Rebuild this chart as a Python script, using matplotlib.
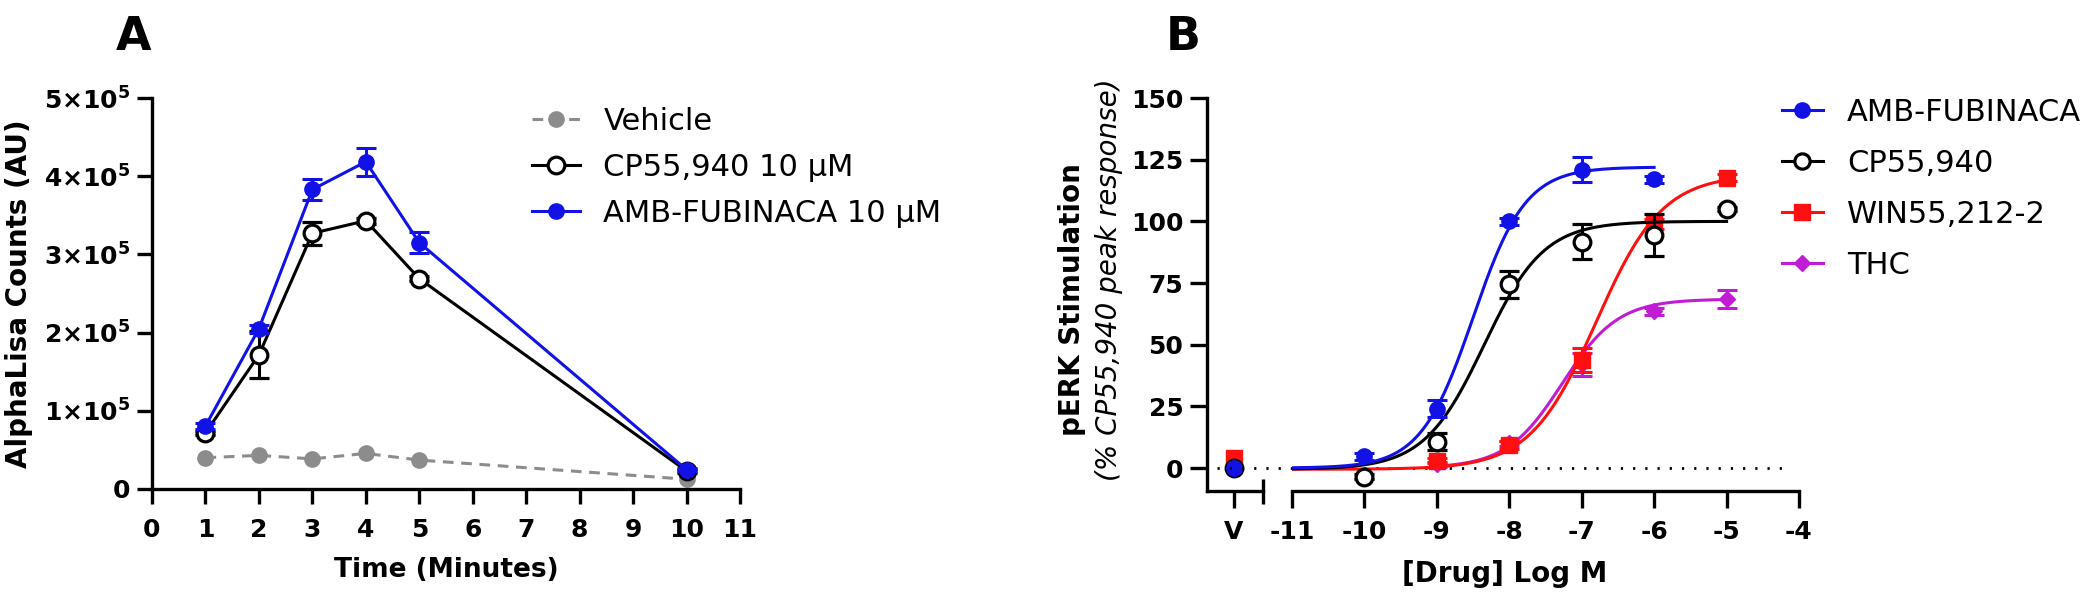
import numpy as np
import matplotlib
matplotlib.use("Agg")
import matplotlib.pyplot as plt
from matplotlib.lines import Line2D

plt.rcParams['font.family'] = ['DejaVu Sans']
plt.rcParams['mathtext.fontset'] = 'dejavusans'

# ---------------- Panel A data: time course ----------------
time_min = [1, 2, 3, 4, 5, 10]
vehicle = [40000, 43000, 38500, 45500, 37000, 12500]
cp_time = [71600, 171500, 327000, 343000, 269000, 23000]
cp_time_err = [3000, 30000, 15000, 4000, 3000, 2000]
amb_time = [80500, 205000, 383000, 418500, 315000, 24700]
amb_time_err = [4000, 5000, 13000, 18000, 13500, 2000]
legendA_labels = ["Vehicle", "CP55,940 10 \u03bcM", "AMB-FUBINACA 10 \u03bcM"]

# ---------------- Panel B data: concentration response ----------------
log_conc = [-10, -9, -8, -7, -6, -5]
amb_resp = [4.7, 24.0, 100.0, 121.0, 117.0, np.nan]
amb_err = [1.5, 3.5, 1.5, 5.0, 1.5, np.nan]
cp_resp = [-3.5, 10.7, 74.5, 91.8, 94.4, 105.0]
cp_err = [1.0, 3.5, 5.5, 7.0, 8.5, 1.0]
win_resp = [np.nan, 3.0, 9.4, 43.8, 98.8, 117.7]
win_err = [np.nan, 1.0, 1.5, 5.0, 2.0, 1.5]
thc_resp = [np.nan, 1.5, 10.0, 42.0, 63.5, 68.5]
thc_err = [np.nan, 1.0, 1.0, 4.5, 1.5, 3.5]

# vehicle (V) values
veh_amb, veh_cp, veh_win = 0.0, 0.0, 4.0

# four-parameter logistic fits
fit_names = ["AMB-FUBINACA", "CP55,940", "WIN55,212-2", "THC"]
fit_bottom = [0.0, -0.5, -0.5, 0.0]
fit_top = [122.0, 100.0, 119.0, 68.5]
fit_logec50 = [-8.5, -8.35, -6.8, -7.27]
fit_hill = [1.2, 1.05, 0.95, 1.13]
fit_start = [-11, -11, -11, -9]
fit_end = [-6, -5, -5, -5]

colors = {"AMB-FUBINACA": "#1212e6", "CP55,940": "black",
          "WIN55,212-2": "#ff1010", "THC": "#c21bd6", "Vehicle": "#8c8c8c"}

W, H = 2100, 606
fig = plt.figure(figsize=(21, 6.06), dpi=100)


def box(x0, x1, ytop, ybot):
    return [x0 / W, 1 - ybot / H, (x1 - x0) / W, (ybot - ytop) / H]


tick_fs = 18
label_fs = 20
leg_fs = 22

# ================= Panel A =================
axA = fig.add_axes(box(152, 740, 98, 489))
axA.plot(time_min, vehicle, ls=(0, (3.5, 2.5)), color=colors["Vehicle"], lw=2.2,
         marker='o', ms=11, zorder=2)
axA.errorbar(time_min, cp_time, yerr=cp_time_err, color='black', lw=2.2,
             marker='o', ms=12, mfc='white', mec='black', mew=2.3,
             capsize=7, capthick=2.2, zorder=3)
axA.errorbar(time_min, amb_time, yerr=amb_time_err, color=colors["AMB-FUBINACA"], lw=2.2,
             marker='o', ms=11, capsize=7, capthick=2.2, zorder=4)
axA.set_xlim(0, 11)
axA.set_ylim(0, 5e5)
axA.set_xticks(range(0, 12))
axA.set_yticks([0, 1e5, 2e5, 3e5, 4e5, 5e5])
axA.set_yticklabels(["0"] + [r"$\mathbf{%d{\times}10^{5}}$" % i for i in range(1, 6)])
for s in ["top", "right"]:
    axA.spines[s].set_visible(False)
for s in ["left", "bottom"]:
    axA.spines[s].set_linewidth(2.4)
axA.tick_params(width=2.4, length=11, labelsize=tick_fs)
axA.tick_params(axis='x', pad=10)
axA.tick_params(axis='y', pad=4.5)
for lab in axA.get_xticklabels() + axA.get_yticklabels():
    lab.set_fontweight('bold')
axA.set_xlabel("Time (Minutes)", fontsize=19, fontweight='bold', labelpad=11)
axA.set_ylabel("AlphaLisa Counts (AU)", fontsize=label_fs, fontweight='bold', labelpad=8)
handlesA = [
    Line2D([], [], color=colors["Vehicle"], lw=2.2, ls=(0, (3.5, 2.5)), marker='o', ms=11),
    Line2D([], [], color='black', lw=2.2, marker='o', ms=12, mfc='white', mew=2.3),
    Line2D([], [], color=colors["AMB-FUBINACA"], lw=2.2, marker='o', ms=11),
]
axA.legend(handlesA, legendA_labels, loc='upper left', bbox_to_anchor=(0.647, 0.978),
           frameon=False, fontsize=leg_fs, handlelength=1.57, handletextpad=0.75,
           labelspacing=0.56, borderpad=0, borderaxespad=0)
fig.text(134 / W, 1 - 37 / H, "A", fontsize=33, fontweight='bold', ha='center', va='center')

# ================= Panel B =================
y_lo, y_hi = -9.3, 150
axV = fig.add_axes(box(1207, 1263, 98, 491))
axB = fig.add_axes(box(1292, 1799, 98, 491))
for ax in (axV, axB):
    ax.set_ylim(y_lo, y_hi)
    ax.spines["top"].set_visible(False)
    ax.spines["right"].set_visible(False)
    ax.spines["bottom"].set_linewidth(2.4)
    ax.patch.set_alpha(0)
axV.spines["left"].set_linewidth(2.4)
axB.spines["left"].set_visible(False)

# vehicle column
axV.set_xlim(-0.48, 0.52)
axV.set_xticks([0])
axV.set_xticklabels(["V"])
axV.set_xticks([0.52], minor=True)
axV.set_yticks([0, 25, 50, 75, 100, 125, 150])
axV.tick_params(which='major', width=2.4, length=12, labelsize=tick_fs)
axV.tick_params(axis='x', which='major', pad=9)
axV.tick_params(axis='y', pad=5)
axV.tick_params(axis='x', which='minor', direction='inout', width=2.4, length=18)
axV.plot([0], [veh_win], 's', color=colors["WIN55,212-2"], ms=11, zorder=3)
axV.plot([0], [veh_cp], 'o', mfc='white', mec='black', mew=2.3, ms=12, zorder=4)
axV.plot([0], [veh_amb], 'o', color=colors["AMB-FUBINACA"], ms=11, zorder=5)
for lab in axV.get_xticklabels() + axV.get_yticklabels():
    lab.set_fontweight('bold')

# main log axis
axB.set_xlim(-11, -4)
xt = [-11, -10, -9, -8, -7, -6, -5, -4]
axB.set_xticks(xt)
axB.set_xticklabels([str(v) for v in xt])
axB.set_xticks([-11], minor=True)
axB.set_yticks([])
axB.tick_params(which='major', width=2.4, length=12, labelsize=tick_fs, pad=9)
axB.tick_params(axis='x', which='minor', direction='inout', width=2.4, length=18)
for lab in axB.get_xticklabels():
    lab.set_fontweight('bold')

# dotted baseline across the break
axB.axhline(0, xmin=-0.148, xmax=0.974, color='black', lw=2.0,
            ls=(0, (0.8, 3.6)), clip_on=False, zorder=1)

series = {
    "THC": (thc_resp, thc_err, 'D', 8),
    "WIN55,212-2": (win_resp, win_err, 's', 11),
    "CP55,940": (cp_resp, cp_err, 'o', 12),
    "AMB-FUBINACA": (amb_resp, amb_err, 'o', 11),
}
z = 3
for name in ["THC", "WIN55,212-2", "CP55,940", "AMB-FUBINACA"]:
    k = fit_names.index(name)
    c = colors[name]
    xs = np.linspace(fit_start[k], fit_end[k], 300)
    ys = fit_bottom[k] + (fit_top[k] - fit_bottom[k]) / (1 + 10 ** ((fit_logec50[k] - xs) * fit_hill[k]))
    axB.plot(xs, ys, color=c, lw=2.2, zorder=z)
    vals, errs, mk, ms = series[name]
    if name == "CP55,940":
        axB.errorbar(log_conc, vals, yerr=errs, fmt='o', mfc='white', mec='black',
                     mew=2.3, ms=ms, ecolor='black', elinewidth=2.2, capsize=7,
                     capthick=2.2, zorder=z + 1)
    else:
        axB.errorbar(log_conc, vals, yerr=errs, fmt=mk, color=c, ms=ms,
                     elinewidth=2.2, capsize=7, capthick=2.2, zorder=z + 1)
    z += 2

axB.set_xlabel("[Drug] Log M", fontsize=label_fs, fontweight='bold')
axB.xaxis.set_label_coords(0.42, -0.175)

fig.text(1072 / W, 1 - 300 / H, "pERK Stimulation", rotation=90, fontsize=label_fs,
         fontweight='bold', ha='center', va='center')
fig.text(1109 / W, 1 - 280 / H, "(% CP55,940 peak response)", rotation=90,
         fontsize=label_fs, style='italic', ha='center', va='center')
fig.text(1183 / W, 1 - 37 / H, "B", fontsize=33, fontweight='bold', ha='center', va='center')

handlesB = [
    Line2D([], [], color=colors["AMB-FUBINACA"], lw=2.2, marker='o', ms=11),
    Line2D([], [], color='black', lw=2.2, marker='o', ms=11, mfc='white', mew=2.3),
    Line2D([], [], color=colors["WIN55,212-2"], lw=2.2, marker='s', ms=11),
    Line2D([], [], color=colors["THC"], lw=2.2, marker='D', ms=8),
]
fig.legend(handlesB, fit_names, loc='upper left', bbox_to_anchor=(1782 / W, 1 - 98 / H),
           frameon=False, fontsize=leg_fs, handlelength=1.34, handletextpad=0.78,
           labelspacing=0.72, borderpad=0, borderaxespad=0)

fig.savefig("out.png", dpi=100)
